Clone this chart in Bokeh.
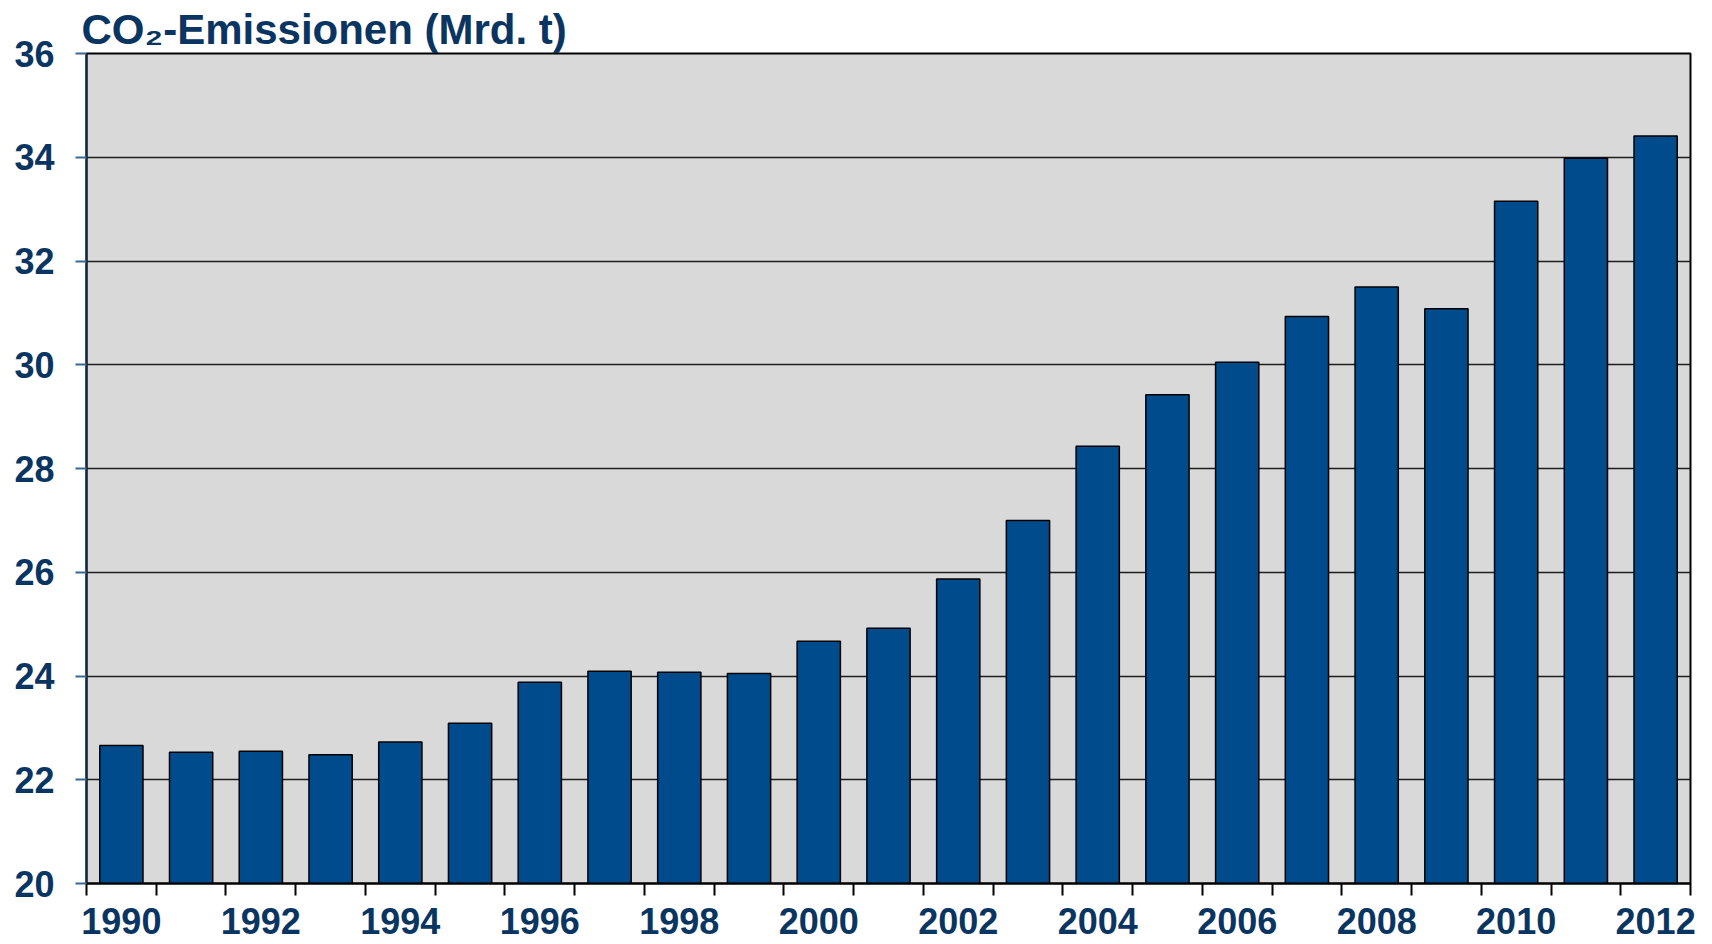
from bokeh.plotting import figure
from bokeh.models import Range1d, FixedTicker, ColumnDataSource
from bokeh.embed import file_html
from bokeh.resources import INLINE

# ---- data ----
years = [1990, 1991, 1992, 1993, 1994, 1995, 1996, 1997, 1998, 1999, 2000, 2001,
         2002, 2003, 2004, 2005, 2006, 2007, 2008, 2009, 2010, 2011, 2012]
emissions = [22.66, 22.53, 22.55, 22.48, 22.73, 23.09, 23.88, 24.09, 24.07, 24.05,
             24.67, 24.92, 25.87, 27.00, 28.43, 29.42, 30.05, 30.93, 31.50, 31.08,
             33.15, 33.98, 34.41]
y_ticks = [20, 22, 24, 26, 28, 30, 32, 34, 36]
x_label_years = [1990, 1992, 1994, 1996, 1998, 2000, 2002, 2004, 2006, 2008, 2010, 2012]
title_text = "CO\u2082-Emissionen (Mrd. t)"

NAVY = "#0b3561"
BAR = "#004b8b"
FONT = "Liberation Sans"

src = ColumnDataSource(dict(year=years, value=emissions, base=[y_ticks[0]] * len(years)))

p = figure(width=1708, height=944, output_backend="svg", toolbar_location=None,
           x_range=Range1d(years[0] - 0.5, years[-1] + 0.5),
           y_range=Range1d(y_ticks[0], y_ticks[-1]),
           title=title_text,
           min_border_left=86, min_border_right=18, min_border_top=53, min_border_bottom=61)

p.title.text_font = FONT
p.title.text_font_size = "42px"
p.title.text_font_style = "bold"
p.title.text_color = NAVY
p.title.align = "left"
p.title.offset = -5
p.title.standoff = 2

p.background_fill_color = "#d9d9d9"
p.border_fill_color = "white"
p.outline_line_color = "black"
p.outline_line_width = 2

p.vbar(x="year", top="value", bottom="base", width=0.62, source=src,
       fill_color=BAR, line_color="black", line_width=1.5)

# grid
p.xgrid.grid_line_color = None
p.ygrid.ticker = FixedTicker(ticks=y_ticks)
p.ygrid.grid_line_color = "#1e1e1e"
p.ygrid.grid_line_width = 1.3

# y axis
ya = p.yaxis[0]
ya.ticker = FixedTicker(ticks=y_ticks)
ya.axis_line_color = "#0b2545"
ya.axis_line_width = 2
ya.major_tick_line_color = "#3d6690"
ya.major_tick_line_width = 2
ya.major_tick_out = 11
ya.major_tick_in = 0
ya.minor_tick_line_color = None
ya.major_label_standoff = 21
ya.major_label_text_font = FONT
ya.major_label_text_font_size = "36px"
ya.major_label_text_font_style = "bold"
ya.major_label_text_color = NAVY

# x axis: ticks at category boundaries, labels under every second year
xa = p.xaxis[0]
xa.ticker = FixedTicker(ticks=x_label_years,
                        minor_ticks=[y - 0.5 for y in years] + [years[-1] + 0.5])
xa.axis_line_color = "black"
xa.axis_line_width = 2
xa.major_tick_line_color = None
xa.major_tick_out = 0
xa.major_tick_in = 0
xa.minor_tick_line_color = "black"
xa.minor_tick_line_width = 2
xa.minor_tick_out = 12
xa.minor_tick_in = 0
xa.major_label_standoff = 12
xa.major_label_text_font = FONT
xa.major_label_text_font_size = "36px"
xa.major_label_text_font_style = "bold"
xa.major_label_text_color = NAVY

open("out.html", "w").write(file_html(p, INLINE))
